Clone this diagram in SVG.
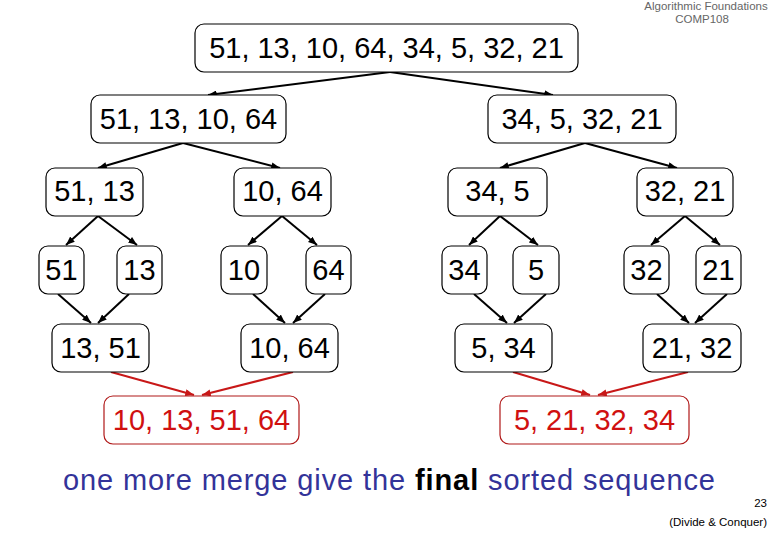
<svg xmlns="http://www.w3.org/2000/svg" width="780" height="540" viewBox="0 0 780 540">
<style>
.box{fill:#fff;stroke:#000;stroke-width:1.2}
.rbox{fill:#fff;stroke:#b01818;stroke-width:1.2}
.t{font-family:"Liberation Sans",Arial,sans-serif;font-size:29px;text-anchor:middle;fill:#000}
.rt{fill:#d01010}
.e{stroke:#000;stroke-width:2;fill:none;marker-end:url(#ab)}
.re{stroke:#c81818;stroke-width:2;fill:none;marker-end:url(#ar)}
.small{font-family:"Liberation Sans",Arial,sans-serif;font-size:11.5px;fill:#666}
</style>
<defs>
<marker id="ab" viewBox="0 0 10 8" refX="10" refY="4" markerWidth="9" markerHeight="7" markerUnits="userSpaceOnUse" orient="auto"><path d="M0,0L10,4L0,8z" fill="#000"/></marker>
<marker id="ar" viewBox="0 0 10 8" refX="10" refY="4" markerWidth="9" markerHeight="7" markerUnits="userSpaceOnUse" orient="auto"><path d="M0,0L10,4L0,8z" fill="#c81818"/></marker>
</defs>
<rect width="780" height="540" fill="#fff"/>
<text class="small" x="706" y="10" text-anchor="middle">Algorithmic Foundations</text>
<text class="small" x="702" y="23" text-anchor="middle">COMP108</text>

<g id="connectors">
<path class="e" d="M390,72L208,95"/>
<path class="e" d="M390,72L553,95"/>
<path class="e" d="M183,143L98,168"/>
<path class="e" d="M183,143L280,168"/>
<path class="e" d="M585,143L500,168"/>
<path class="e" d="M585,143L677,168"/>
<path class="e" d="M98,216L66,245"/>
<path class="e" d="M98,216L137,245"/>
<path class="e" d="M282,216L248,245"/>
<path class="e" d="M282,216L317,245"/>
<path class="e" d="M500,216L469,245"/>
<path class="e" d="M500,216L538,245"/>
<path class="e" d="M685,216L651,245"/>
<path class="e" d="M685,216L720,245"/>
<path class="e" d="M58,294L91,323"/>
<path class="e" d="M129,294L98,323"/>
<path class="e" d="M253,294L285,323"/>
<path class="e" d="M325,294L293,323"/>
<path class="e" d="M474,294L507,323"/>
<path class="e" d="M546,294L514,323"/>
<path class="e" d="M657,294L689,323"/>
<path class="e" d="M727,294L695,323"/>
<path class="re" d="M111,372L194,395"/>
<path class="re" d="M293,372L202,395"/>
<path class="re" d="M513,372L590,395"/>
<path class="re" d="M688,372L598,395"/>
</g>

<g id="n_all"><rect class="box" x="195" y="24" width="383" height="48" rx="9"/><text class="t" x="386.5" y="58">51, 13, 10, 64, 34, 5, 32, 21</text></g>
<g id="n_l1"><rect class="box" x="91" y="95" width="195" height="48" rx="9"/><text class="t" x="188.5" y="129">51, 13, 10, 64</text></g>
<g id="n_r1"><rect class="box" x="488" y="95" width="188" height="48" rx="9"/><text class="t" x="582" y="129">34, 5, 32, 21</text></g>
<g id="n_5113"><rect class="box" x="46" y="168" width="97" height="48" rx="9"/><text class="t" x="94.5" y="201">51, 13</text></g>
<g id="n_1064"><rect class="box" x="234" y="168" width="97" height="48" rx="9"/><text class="t" x="282.5" y="201">10, 64</text></g>
<g id="n_345"><rect class="box" x="448" y="168" width="99" height="48" rx="9"/><text class="t" x="497.5" y="201">34, 5</text></g>
<g id="n_3221"><rect class="box" x="637" y="168" width="96" height="48" rx="9"/><text class="t" x="685" y="201">32, 21</text></g>
<g id="n_51"><rect class="box" x="39" y="246" width="45" height="48" rx="9"/><text class="t" x="61.5" y="280">51</text></g>
<g id="n_13"><rect class="box" x="117" y="246" width="45" height="48" rx="9"/><text class="t" x="139.5" y="280">13</text></g>
<g id="n_10"><rect class="box" x="221" y="246" width="46" height="48" rx="9"/><text class="t" x="244" y="280">10</text></g>
<g id="n_64"><rect class="box" x="306" y="246" width="45" height="48" rx="9"/><text class="t" x="328.5" y="280">64</text></g>
<g id="n_34"><rect class="box" x="442" y="246" width="45" height="48" rx="9"/><text class="t" x="464.5" y="280">34</text></g>
<g id="n_5"><rect class="box" x="513" y="246" width="46" height="48" rx="9"/><text class="t" x="536" y="280">5</text></g>
<g id="n_32"><rect class="box" x="624" y="246" width="45" height="48" rx="9"/><text class="t" x="646.5" y="280">32</text></g>
<g id="n_21"><rect class="box" x="696" y="246" width="45" height="48" rx="9"/><text class="t" x="718.5" y="280">21</text></g>
<g id="n_1351"><rect class="box" x="52" y="324" width="97" height="48" rx="9"/><text class="t" x="100.5" y="358">13, 51</text></g>
<g id="n_1064b"><rect class="box" x="241" y="324" width="97" height="48" rx="9"/><text class="t" x="289.5" y="358">10, 64</text></g>
<g id="n_534"><rect class="box" x="455" y="324" width="97" height="48" rx="9"/><text class="t" x="503.5" y="358">5, 34</text></g>
<g id="n_2132"><rect class="box" x="643" y="324" width="98" height="48" rx="9"/><text class="t" x="692" y="358">21, 32</text></g>
<g id="n_left4"><rect class="rbox" x="104" y="396" width="195" height="48" rx="9"/><text class="t rt" x="201.5" y="430">10, 13, 51, 64</text></g>
<g id="n_right4"><rect class="rbox" x="500" y="396" width="189" height="48" rx="9"/><text class="t rt" x="594.5" y="430">5, 21, 32, 34</text></g>

<text x="63" y="490" font-family="'Liberation Sans',Arial,sans-serif" font-size="29" fill="#333399" textLength="652" lengthAdjust="spacing">one more merge give the <tspan font-weight="bold" fill="#000">final</tspan> sorted sequence</text>
<text class="small" x="767" y="507" text-anchor="end" style="fill:#000">23</text>
<text class="small" x="767" y="526" text-anchor="end" style="fill:#000">(Divide &amp; Conquer)</text>
</svg>
